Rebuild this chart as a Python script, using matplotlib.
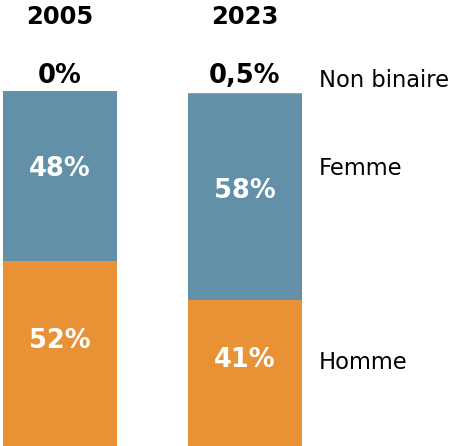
import matplotlib.pyplot as plt

# data
years = ["2005", "2023"]
homme = [52, 41]
femme = [48, 58]
non_binaire = [0, 0.5]
series_names = ["Homme", "Femme", "Non binaire"]

COL_H = "#E99135"
COL_F = "#6190A8"
COL_NB = "#A0A0A0"

def fmt(v):
    s = ("%g" % v).replace(".", ",")
    return s + "%"

fig = plt.figure(figsize=(4.59, 4.46), dpi=100)
ax = fig.add_axes([0, 0, 1, 1])
ax.set_xlim(0, 459)
ax.set_ylim(0, 125.6)
ax.axis("off")

xpos = [60, 245]
w = 114

for i, yr in enumerate(years):
    x = xpos[i]
    ax.bar(x, homme[i], width=w, color=COL_H)
    ax.bar(x, femme[i], width=w, bottom=homme[i], color=COL_F)
    ax.bar(x, non_binaire[i], width=w, bottom=homme[i] + femme[i], color=COL_NB)

    ax.text(x, homme[i] / 2 + 3.7, fmt(homme[i]), ha="center", va="center",
            color="white", fontsize=18.5, fontweight="bold")
    ax.text(x, homme[i] + femme[i] / 2 + 1.9, fmt(femme[i]), ha="center", va="center",
            color="white", fontsize=18.5, fontweight="bold")
    ax.text(x, 104.2, fmt(non_binaire[i]), ha="center", va="center",
            color="black", fontsize=18.5, fontweight="bold")
    ax.text(x, 120.8, yr, ha="center", va="center",
            color="black", fontsize=17.5, fontweight="bold")

# series names on the right
ax.text(319, 102.8, series_names[2], ha="left", va="center", fontsize=16.3)
ax.text(319, 78.2, series_names[1], ha="left", va="center", fontsize=16.3)
ax.text(319, 23.4, series_names[0], ha="left", va="center", fontsize=16.3)

fig.savefig("out.png", dpi=100)
